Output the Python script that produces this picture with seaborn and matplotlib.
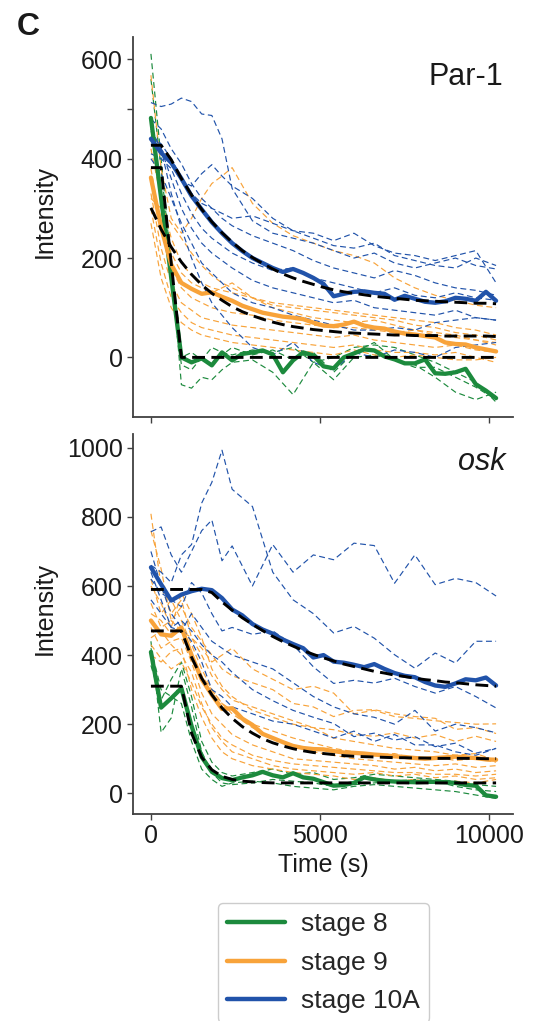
import matplotlib
matplotlib.use("Agg")
import matplotlib.pyplot as plt
from matplotlib.lines import Line2D
from matplotlib.ticker import FixedLocator
import seaborn as sns

sns.set_style("ticks")
plt.rcParams["font.family"] = ["Liberation Sans", "DejaVu Sans"]

GREEN = "#1c8a3d"
ORANGE = "#f8a33a"
BLUE = "#2153aa"

STAGES = ["stage 8", "stage 9", "stage 10A"]

# sampling times (s)
T_MEAN = list(range(0, 10201, 300))
T_TRACE = [0, 300, 600, 900, 1200, 1500, 1800, 2100, 2400, 3000, 3600, 4200,
           4800, 5400, 6000, 6600, 7200, 7800, 8400, 9000, 9600, 10200]

# ---------------- Par-1 ----------------
par1_s8_traces = [
    [611, 400, 190, -55, -62, -40, -45, -25, -10, -5, -30, -75, -10, -45, 0, 5, -5, -15, -40, -70, -85, -70],
    [560, 380, 190, 0, 10, -5, 20, 10, 5, 15, 10, 20, -10, 0, 20, 25, 20, 5, -10, -30, -50, -90],
    [470, 310, 150, -15, -25, 0, -15, 5, 20, 5, 15, -5, 10, -30, 10, 30, -5, -20, -20, -40, -60, -85],
]
par1_s9_traces = [
    [568, 380, 280, 250, 280, 320, 350, 365, 382, 310, 270, 245, 230, 215, 205, 190, 160, 140, 125, 115, 105, 100],
    [420, 320, 240, 190, 165, 150, 140, 135, 130, 120, 110, 105, 100, 95, 90, 85, 80, 75, 70, 60, 55, 45],
    [380, 260, 180, 140, 120, 110, 100, 95, 90, 85, 75, 70, 65, 60, 60, 55, 50, 55, 45, 40, 35, 30],
    [330, 220, 150, 110, 95, 80, 75, 70, 65, 60, 55, 50, 45, 40, 45, 35, 30, 25, 20, 25, 15, 10],
    [300, 190, 120, 90, 70, 60, 55, 50, 45, 40, 35, 30, 25, 20, 25, 15, 10, 10, 5, 10, 0, -10],
    [270, 160, 100, 70, 55, 45, 40, 35, 30, 25, 20, 15, 10, 5, 15, 5, 0, 5, 0, -5, -5, 0],
    [350, 280, 210, 170, 150, 140, 130, 140, 150, 120, 100, 90, 80, 75, 70, 75, 65, 55, 50, 45, 35, 25],
    [320, 300, 270, 240, 210, 185, 165, 150, 140, 120, 105, 100, 95, 90, 85, 80, 75, 65, 60, 50, 45, 35],
]
par1_s10_traces = [
    [513, 505, 510, 522, 515, 490, 487, 440, 340, 275, 250, 240, 230, 215, 200, 210, 190, 180, 190, 200, 185, 178],
    [430, 420, 390, 355, 345, 370, 388, 365, 345, 320, 280, 255, 240, 225, 220, 230, 205, 195, 185, 180, 200, 185],
    [445, 430, 400, 360, 330, 310, 300, 290, 280, 285, 270, 255, 250, 235, 250, 225, 210, 205, 195, 205, 215, 150],
    [410, 400, 380, 330, 290, 260, 240, 225, 210, 190, 175, 180, 160, 150, 140, 130, 140, 125, 120, 130, 120, 115],
    [455, 420, 360, 300, 260, 230, 210, 195, 180, 155, 140, 130, 120, 110, 115, 100, 95, 90, 85, 95, 80, 75],
    [400, 370, 320, 270, 230, 190, 170, 150, 130, 110, 100, 85, 75, 65, 55, 55, 60, 55, 70, 75, 80, 75],
    [460, 420, 330, 260, 200, 150, 110, 85, 60, 20, 5, 30, -10, -25, 10, 0, 15, 10, 0, 20, 25, 30],
    [480, 460, 420, 390, 350, 320, 300, 280, 265, 245, 230, 215, 195, 180, 170, 160, 175, 165, 150, 140, 135, 125],
]
par1_s8_mean = [482, 321, 161, 0, -10, -2, -16, 10, -6, 7, 10, 14, 6, -30, -6, 10, 4, -18,
                -22, 0, 8, 16, 14, 2, -4, -12, -12, -4, -32, -33, -30, -23, -54, -67, -82]
par1_s9_mean = [362, 262, 187, 150, 138, 128, 131, 122, 114, 104, 97, 90, 86, 82, 80, 77, 70, 64,
                63, 66, 72, 64, 60, 58, 52, 48, 46, 43, 40, 30, 27, 26, 20, 16, 12]
par1_s10_mean = [440, 412, 392, 360, 325, 298, 272, 250, 230, 214, 200, 190, 180, 172, 178, 170, 160, 148,
                 123, 128, 132, 133, 130, 128, 116, 124, 118, 112, 110, 113, 120, 118, 114, 132, 114]
par1_s8_fit = [382, 382, 190, 0, 0, 0, 0, 0, 0, 0, 0, 0, 0, 0, 0, 0, 0, 0,
               0, 0, 0, 0, 0, 0, 0, 0, 0, 0, 0, 0, 0, 0, 0, 0, 0]
par1_s9_fit = [301, 258, 222, 192, 167, 146, 129, 115, 102, 92, 84, 77, 71, 66, 62, 59, 56, 54,
               52, 50, 49, 48, 47, 46, 45, 45, 44, 44, 44, 43, 43, 43, 43, 43, 42]
par1_s10_fit = [427, 427, 398, 360, 327, 298, 273, 251, 232, 215, 201, 189, 178, 168, 160, 153, 147, 141,
                136, 132, 129, 126, 123, 121, 119, 117, 115, 114, 113, 112, 111, 110, 109, 109, 108]

# ---------------- osk ----------------
osk_s8_traces = [
    [440, 176, 218, 360, 250, 120, 60, 30, 25, 30, 40, 35, 30, 20, 25, 30, 35, 40, 35, 20, 10, 5],
    [370, 270, 330, 380, 280, 150, 90, 60, 50, 60, 70, 55, 60, 40, 45, 55, 50, 45, 40, 35, 25, 20],
    [420, 300, 280, 260, 150, 70, 40, 20, 30, 35, 30, 20, 15, 10, 20, 25, 20, 15, 10, 5, -5, -15],
]
osk_s9_traces = [
    [809, 600, 520, 560, 450, 420, 380, 400, 420, 360, 330, 300, 310, 290, 230, 240, 222, 217, 210, 205, 200, 201],
    [760, 650, 500, 540, 480, 440, 400, 360, 340, 320, 300, 260, 250, 222, 240, 242, 230, 222, 217, 185, 190, 173],
    [600, 550, 480, 580, 520, 450, 360, 310, 280, 240, 220, 200, 190, 184, 170, 165, 175, 160, 170, 150, 165, 150],
    [520, 500, 460, 470, 400, 340, 300, 260, 230, 190, 160, 140, 120, 110, 100, 95, 90, 85, 80, 85, 75, 80],
    [480, 420, 440, 450, 380, 290, 230, 200, 170, 140, 120, 100, 95, 90, 85, 80, 70, 75, 65, 70, 60, 65],
    [450, 470, 430, 400, 350, 260, 190, 150, 120, 100, 80, 70, 65, 60, 55, 60, 50, 55, 45, 50, 40, 45],
    [400, 380, 410, 420, 300, 220, 160, 120, 100, 80, 70, 60, 55, 50, 40, 45, 35, 40, 30, 35, 30, 40],
    [550, 480, 500, 470, 450, 400, 340, 300, 270, 250, 230, 210, 190, 160, 150, 140, 130, 125, 120, 110, 115, 95],
    [620, 520, 560, 500, 430, 360, 300, 260, 240, 200, 180, 160, 145, 130, 120, 110, 115, 100, 105, 95, 100, 90],
    [430, 390, 360, 380, 320, 250, 200, 160, 140, 110, 95, 85, 80, 75, 70, 65, 60, 60, 55, 55, 50, 55],
]
osk_s10_traces = [
    [660, 640, 610, 690, 720, 840, 900, 993, 880, 830, 640, 560, 520, 464, 483, 449, 401, 362, 406, 377, 440, 440],
    [757, 771, 690, 640, 700, 760, 791, 673, 716, 600, 720, 640, 690, 676, 724, 717, 608, 690, 604, 622, 610, 571],
    [620, 580, 560, 540, 610, 580, 520, 470, 480, 460, 470, 430, 366, 318, 327, 319, 333, 309, 290, 309, 280, 247],
    [560, 520, 480, 500, 470, 430, 400, 380, 350, 300, 268, 240, 220, 202, 164, 174, 154, 164, 135, 145, 116, 130],
    [700, 600, 520, 480, 440, 380, 300, 280, 250, 230, 209, 200, 180, 160, 180, 150, 170, 140, 140, 120, 110, 130],
    [640, 560, 480, 470, 520, 480, 440, 420, 400, 380, 360, 320, 280, 250, 230, 220, 200, 240, 180, 200, 190, 175],
]
osk_s8_mean = [409, 248, 275, 304, 195, 105, 62, 44, 38, 46, 52, 62, 52, 46, 58, 46, 42, 32,
               22, 24, 30, 46, 40, 36, 34, 33, 32, 33, 33, 32, 30, 24, 22, -6, -10]
osk_s9_mean = [500, 460, 456, 480, 400, 330, 285, 244, 246, 216, 198, 172, 160, 148, 137, 131, 128, 127,
               122, 118, 117, 115, 112, 110, 107, 105, 102, 100, 102, 104, 106, 104, 102, 98, 97]
osk_s10_mean = [654, 605, 558, 575, 585, 592, 588, 565, 532, 515, 490, 474, 462, 445, 432, 420, 393, 400,
                381, 378, 372, 365, 374, 360, 348, 340, 336, 322, 312, 308, 318, 330, 327, 335, 312]
osk_s8_fit = [310, 310, 310, 310, 174, 104, 68, 49, 40, 35, 33, 31, 30, 30, 30, 30, 30, 30,
              30, 30, 30, 30, 30, 30, 30, 30, 30, 30, 30, 30, 30, 30, 30, 30, 30]
osk_s9_fit = [470, 470, 470, 470, 394, 333, 285, 247, 217, 193, 174, 158, 146, 137, 129, 123, 118, 115,
              112, 109, 107, 106, 105, 104, 103, 103, 102, 102, 101, 101, 101, 101, 101, 100, 100]
osk_s10_fit = [590, 590, 590, 590, 590, 590, 581, 554, 530, 508, 489, 471, 454, 439, 426, 413, 402, 392,
               383, 374, 367, 360, 353, 348, 342, 338, 333, 329, 326, 322, 320, 317, 314, 312, 310]

PAR1_YTICKS = [0, 200, 400, 600]
OSK_YTICKS = [0, 200, 400, 600, 800, 1000]
XTICKS = [0, 5000, 10000]

W, H = 539, 1021
fig = plt.figure(figsize=(W / 100, H / 100), dpi=100)
ax_top = fig.add_axes([133 / W, 1 - 417 / H, 380 / W, 380 / H])
ax_bot = fig.add_axes([133 / W, 1 - 814 / H, 380 / W, 380 / H])

COLORS = [GREEN, ORANGE, BLUE]


def draw_panel(ax, traces, means, fits):
    for color, group in zip(COLORS, traces):
        for y in group:
            sns.lineplot(x=T_TRACE, y=y, ax=ax, color=color, lw=0.85,
                         linestyle=(0, (5.0, 3.0)), zorder=2)
    for color, y in zip(COLORS, means):
        sns.lineplot(x=T_MEAN, y=y, ax=ax, color=color, lw=3.1, zorder=3)
    for y in fits:
        sns.lineplot(x=T_MEAN, y=y, ax=ax, color="black", lw=2.1,
                     linestyle=(0, (4.4, 2.2)), zorder=4)


draw_panel(ax_top,
           [par1_s8_traces, par1_s9_traces, par1_s10_traces],
           [par1_s8_mean, par1_s9_mean, par1_s10_mean],
           [par1_s8_fit, par1_s9_fit, par1_s10_fit])
draw_panel(ax_bot,
           [osk_s8_traces, osk_s9_traces, osk_s10_traces],
           [osk_s8_mean, osk_s9_mean, osk_s10_mean],
           [osk_s8_fit, osk_s9_fit, osk_s10_fit])

for ax in (ax_top, ax_bot):
    ax.set_xlim(-530, 10700)
    ax.set_xticks(XTICKS)
    for side in ("top", "right"):
        ax.spines[side].set_visible(False)
    for side in ("left", "bottom"):
        ax.spines[side].set_linewidth(1.3)
        ax.spines[side].set_color("#404040")
    ax.tick_params(axis="both", which="both", direction="out", length=4.5, width=1.0,
                   color="#404040", labelsize=18, pad=3, labelcolor="#1a1a1a")
    ax.set_ylabel("Intensity", fontsize=18, color="#1a1a1a")
    ax.yaxis.set_label_coords(-0.2, 0.54)

ax_top.set_ylim(-120, 645)
ax_top.set_yticks(PAR1_YTICKS)
ax_top.yaxis.set_minor_locator(FixedLocator([500]))
ax_top.tick_params(labelbottom=False)
ax_top.set_xlabel("")
ax_top.text(0.974, 0.874, "Par-1", transform=ax_top.transAxes, ha="right",
            va="baseline", fontsize=22, color="#1a1a1a")

ax_bot.set_ylim(-60, 1040)
ax_bot.set_yticks(OSK_YTICKS)
ax_bot.set_xlabel("Time (s)", fontsize=18, color="#1a1a1a", labelpad=3)
ax_bot.text(0.979, 0.905, "osk", transform=ax_bot.transAxes, ha="right",
            va="baseline", fontsize=22, style="italic", color="#1a1a1a")

fig.text(17 / W, 1 - 35 / H, "C", fontsize=23, fontweight="bold", ha="left",
         va="baseline", color="#1a1a1a")

handles = [Line2D([], [], color=c, lw=3.2) for c in COLORS]
fig.legend(handles, STAGES, loc="upper left", bbox_to_anchor=(218 / W, 1 - 903 / H),
           borderaxespad=0, fontsize=19, handlelength=2.2, handletextpad=0.6,
           labelspacing=0.55, borderpad=0.35, frameon=True, fancybox=True,
           edgecolor="#cccccc", framealpha=1)

fig.savefig("out.png", dpi=100)
